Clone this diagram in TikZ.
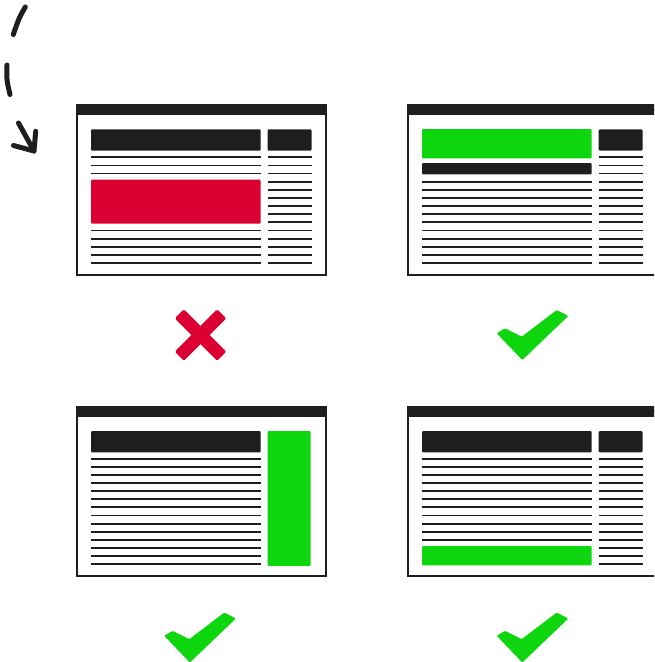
\documentclass[tikz,border=0pt]{standalone}
\definecolor{ink}{HTML}{1E1E1E}
\definecolor{badred}{HTML}{DC0032}
\definecolor{goodgreen}{HTML}{0ED60E}
\tikzset{
  winframe/.style={draw=ink, line width=2pt, fill=white},
  titlebar/.style={fill=ink},
  block/.style={fill=ink, rounded corners=1pt},
  txtline/.style={draw=ink, line width=1.8pt},
  okblock/.style={fill=goodgreen, rounded corners=1pt},
  badblock/.style={fill=badred, rounded corners=1pt},
  sketch/.style={draw=ink, line width=5pt, line cap=round, line join=round},
  okmark/.style={fill=goodgreen, rounded corners=1pt},
  badmark/.style={fill=badred, rounded corners=1.5pt},
}
\newcommand\winbase{%
  \path[winframe] (77,110) rectangle (326,274.6);
  \path[titlebar] (76,104.3) rectangle (327,115.3);
}
\newcommand\leftlines[1]{%
  \foreach \k in {#1} \draw[txtline] (91,{157.3+8.13*\k}) -- (260.7,{157.3+8.13*\k});
}
\newcommand\rightlines{%
  \foreach \k in {0,...,13} \draw[txtline] (267.7,{157.3+8.13*\k}) -- (311.5,{157.3+8.13*\k});
}
\newcommand\checkshape[1]{%
  \path[okmark, shift={#1}] (496.7,333.3) -- (505,328.3) -- (521.7,336.7) -- (556.7,310)
     -- (568.3,316) -- (522.3,360) -- cycle;
}
\begin{document}
\begin{tikzpicture}[x=1pt,y=-1pt]
\useasboundingbox (0,0) rectangle (654,662);
\clip (0,0) rectangle (654,662);
\fill[white] (0,0) rectangle (654,662);

% curved dashed arrow
\draw[sketch] (25.3,7) .. controls (19,18) .. (13.3,34.5);
\draw[sketch] (7,65) .. controls (6.6,80) .. (10,94.5);
\draw[sketch] (18.5,123) -- (34,151);
\draw[sketch] (13.5,145.5) -- (34,151) -- (35.7,131.3);

% window 1: bad (red block inside text)
\begin{scope}
  \winbase
  \path[block] (91,129.3) rectangle (260.7,150.7);
  \path[block] (267.7,129.3) rectangle (311.5,150.7);
  \leftlines{0,1,2,9,10,11,12,13}
  \path[badblock] (91,179.7) rectangle (260.7,223.7);
  \rightlines
\end{scope}

% window 2: good (green block on top)
\begin{scope}[shift={(331,0)}]
  \winbase
  \path[okblock] (91,129) rectangle (260.7,158.3);
  \path[block] (91,163) rectangle (260.7,174.3);
  \path[block] (267.7,129.3) rectangle (311.5,150.5);
  \leftlines{3,...,13}
  \rightlines
\end{scope}

% window 3: good (green sidebar)
\begin{scope}[shift={(0,301.3)}]
  \winbase
  \path[block] (91,129.8) rectangle (260.7,151);
  \path[okblock] (267.5,129.8) rectangle (310.7,264.5);
  \leftlines{0,...,13}
\end{scope}

% window 4: good (green block at bottom)
\begin{scope}[shift={(331,301.3)}]
  \winbase
  \path[block] (91,129.8) rectangle (260.7,151);
  \path[block] (267.7,129.8) rectangle (311.5,151);
  \leftlines{0,...,10}
  \path[okblock] (91,244.7) rectangle (260.7,264);
  \rightlines
\end{scope}

% marks
\path[badmark, rotate around={45:(200.5,335)}] (170.5,328.5) rectangle (230.5,341.5);
\path[badmark, rotate around={-45:(200.5,335)}] (170.5,328.5) rectangle (230.5,341.5);
\checkshape{(0,0)}
\checkshape{(-332.4,302.5)}
\checkshape{(0,302.5)}
\end{tikzpicture}
\end{document}
